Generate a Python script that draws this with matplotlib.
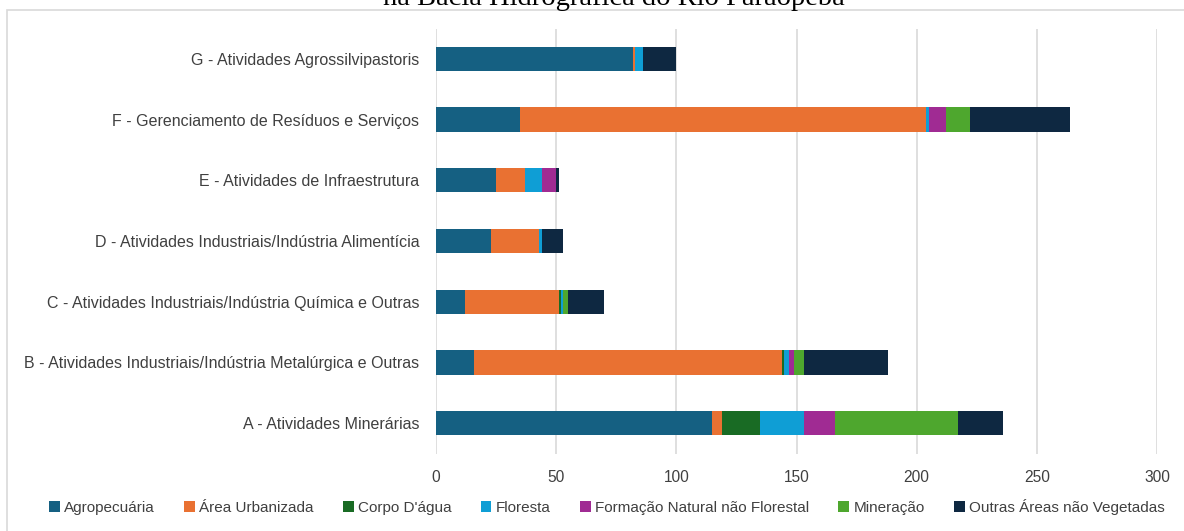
import matplotlib.pyplot as plt
import numpy as np
from matplotlib.patches import Rectangle

plt.rcParams['font.family'] = ['Liberation Sans', 'DejaVu Sans']

# Categories (bottom to top)
categories = ['A - Atividades Minerárias',
              'B - Atividades Industriais/Indústria Metalúrgica e Outras',
              'C - Atividades Industriais/Indústria Química e Outras',
              'D - Atividades Industriais/Indústria Alimentícia',
              'E - Atividades de Infraestrutura',
              'F - Gerenciamento de Resíduos e Serviços',
              'G - Atividades Agrossilvipastoris']

series_names = ['Agropecuária', 'Área Urbanizada', "Corpo D'água", 'Floresta',
                'Formação Natural não Florestal', 'Mineração', 'Outras Áreas não Vegetadas']

#                A    B    C   D   E    F   G
agropecuaria  = [115, 16, 12, 23, 25, 35, 82]
area_urbana   = [4, 128, 39, 20, 12, 169, 1]
corpo_dagua   = [16, 1, 1, 0, 0, 0, 0]
floresta      = [18, 2, 1, 1, 7, 1, 3]
formacao      = [13, 2, 0, 0, 6, 7, 0]
mineracao     = [51, 4, 2, 0, 0, 10, 0]
outras        = [19, 35, 15, 9, 1, 42, 14]

series_values = [agropecuaria, area_urbana, corpo_dagua, floresta, formacao, mineracao, outras]
colors = ['#156082', '#E97132', '#196B24', '#0F9ED5', '#A02B93', '#4EA72E', '#0E2841']

W, H = 1184, 531
fig = plt.figure(figsize=(W / 100, H / 100), dpi=100)
ax = fig.add_axes([436 / W, 1 - 453.5 / H, (1157 - 436) / W, (453.5 - 28.5) / H])

y_pos = np.arange(len(categories))
left = np.zeros(len(categories))
for name, vals, c in zip(series_names, series_values, colors):
    vals = np.array(vals, dtype=float)
    ax.barh(y_pos, vals, left=left, height=0.4, color=c, label=name, zorder=3)
    left += vals

ax.set_xlim(0, 300)
ax.set_ylim(-0.5, len(categories) - 0.5)
ax.set_xticks(np.arange(0, 301, 50))
ax.set_yticks(y_pos)
ax.set_yticklabels(categories, fontsize=11.5, color='#404040')
ax.tick_params(axis='both', length=0)
ax.tick_params(axis='y', pad=12)
ax.tick_params(axis='x', pad=12, labelsize=11.2, labelcolor='#404040')
ax.xaxis.grid(True, color='#D9D9D9', linewidth=1.2, zorder=0)
for s in ax.spines.values():
    s.set_visible(False)

fig.legend(loc='center', bbox_to_anchor=(607 / W, 1 - 507 / H), ncol=7, frameon=False,
           fontsize=11, handlelength=0.7, handleheight=0.7, handletextpad=0.3,
           columnspacing=1.9, labelcolor='#404040')

# chart border and clipped title (cut off at the top, as in the source)
fig.patches.append(Rectangle((7 / W, -0.1), 1.2, 1 - 10 / H + 0.1, transform=fig.transFigure,
                             fill=False, edgecolor='#D9D9D9', linewidth=1.2))
fig.text(614 / W, 1 - 5 / H, 'na Bacia Hidrográfica do Rio Paraopeba', ha='center', va='baseline',
         fontsize=20.5, family=['Liberation Serif', 'DejaVu Serif'])

plt.savefig('out.png', dpi=100)
